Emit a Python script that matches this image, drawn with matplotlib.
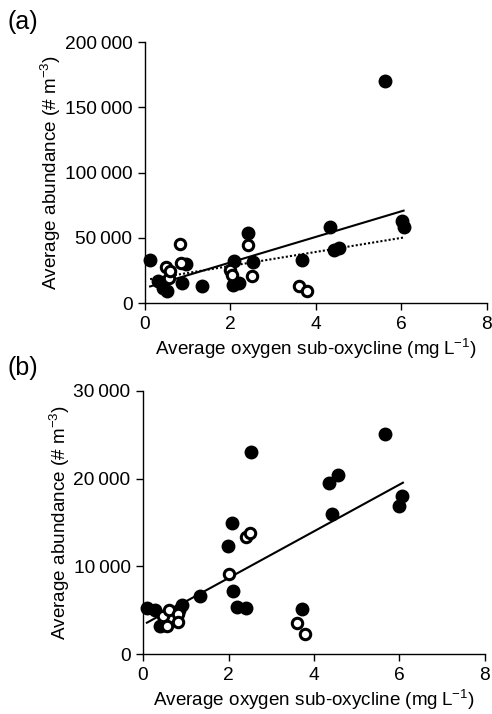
import numpy as np
import matplotlib
matplotlib.use('Agg')
import matplotlib.pyplot as plt

plt.rcParams['font.family'] = ['Liberation Sans', 'DejaVu Sans']
plt.rcParams['mathtext.fontset'] = 'custom'
plt.rcParams['mathtext.rm'] = 'Liberation Sans'

# panel (a)
a_fill_x = [0.12, 0.31, 0.43, 0.51, 0.86, 0.96, 1.33, 2.05, 2.09, 2.20, 2.40, 2.52,
            3.67, 4.33, 4.43, 4.55, 5.62, 6.01, 6.05]
a_fill_y = [33100, 16500, 11500, 8900, 15000, 29800, 13200, 14000, 32300, 15300, 53500, 31300,
            33100, 58600, 40700, 42000, 170000, 63200, 58100]
a_open_x = [0.48, 0.55, 0.59, 0.82, 0.84, 1.99, 2.03, 2.40, 2.50, 3.61, 3.80]
a_open_y = [27500, 19100, 24900, 45300, 31000, 25500, 21200, 44600, 20400, 12700, 8900]
a_solid_x = [0.12, 6.05]
a_solid_y = [12700, 70800]
a_dot_x = [0.12, 6.05]
a_dot_y = [18300, 50200]
a_yticks = [0, 50000, 100000, 150000, 200000]
a_ylabels = ['0', '50\u2009000', '100\u2009000', '150\u2009000', '200\u2009000']

# panel (b)
b_fill_x = [0.09, 0.29, 0.40, 0.50, 0.83, 0.91, 1.34, 1.99, 2.07, 2.10, 2.19, 2.41, 2.52,
            3.71, 4.34, 4.42, 4.55, 5.65, 6.00, 6.05]
b_fill_y = [5280, 5020, 3230, 3300, 5020, 5550, 6610, 12350, 14900, 7220, 5320, 5210, 23000,
            5100, 19540, 15970, 20420, 25100, 16920, 18020]
b_open_x = [0.47, 0.56, 0.60, 0.81, 0.81, 2.02, 2.40, 2.50, 3.61, 3.80]
b_open_y = [4300, 3230, 5020, 4530, 3610, 9160, 13380, 13760, 3570, 2250]
b_solid_x = [0.09, 6.08]
b_solid_y = [3570, 19540]
b_yticks = [0, 10000, 20000, 30000]
b_ylabels = ['0', '10\u2009000', '20\u2009000', '30\u2009000']

xticks = [0, 2, 4, 6, 8]
xlab = 'Average oxygen sub-oxycline (mg\u2009L$^{-1}$)'
ylab = 'Average abundance (# m$^{-3}$)'

fig = plt.figure(figsize=(4.92, 7.14), dpi=100)
axa = fig.add_axes([0.2947, 0.5756, 0.695, 0.3655])
axb = fig.add_axes([0.2907, 0.084, 0.695, 0.3684])


def style(ax, yticks, ylabels, ymax):
    ax.set_xlim(0, 8)
    ax.set_ylim(0, ymax)
    ax.set_xticks(xticks)
    ax.set_yticks(yticks)
    ax.set_yticklabels(ylabels)
    ax.spines['top'].set_visible(False)
    ax.spines['right'].set_visible(False)
    for s in ['left', 'bottom']:
        ax.spines[s].set_linewidth(1.0)
    ax.tick_params(direction='out', length=5, width=1.0, labelsize=13.8, pad=4)
    ax.set_xlabel(xlab, fontsize=13.6, labelpad=3)
    ax.set_ylabel(ylab, fontsize=13.6, labelpad=1)


axa.plot(a_solid_x, a_solid_y, color='black', lw=1.5, zorder=1)
axa.plot(a_dot_x, a_dot_y, color='black', lw=1.5, ls=(0, (1, 1)), zorder=1)
axa.plot(a_fill_x, a_fill_y, 'o', ms=9, color='black', zorder=3, clip_on=False)
axa.plot(a_open_x, a_open_y, 'o', ms=7.5, mfc='white', mec='black', mew=2.2, zorder=4)
style(axa, a_yticks, a_ylabels, 200000)

axb.plot(b_solid_x, b_solid_y, color='black', lw=1.5, zorder=1)
axb.plot(b_fill_x, b_fill_y, 'o', ms=9, color='black', zorder=3, clip_on=False)
axb.plot(b_open_x, b_open_y, 'o', ms=7.5, mfc='white', mec='black', mew=2.2, zorder=4)
style(axb, b_yticks, b_ylabels, 30000)

fig.text(0.016, 0.986, '(a)', fontsize=18, va='top', ha='left')
fig.text(0.016, 0.502, '(b)', fontsize=18, va='top', ha='left')

fig.savefig('out.png', dpi=100)
